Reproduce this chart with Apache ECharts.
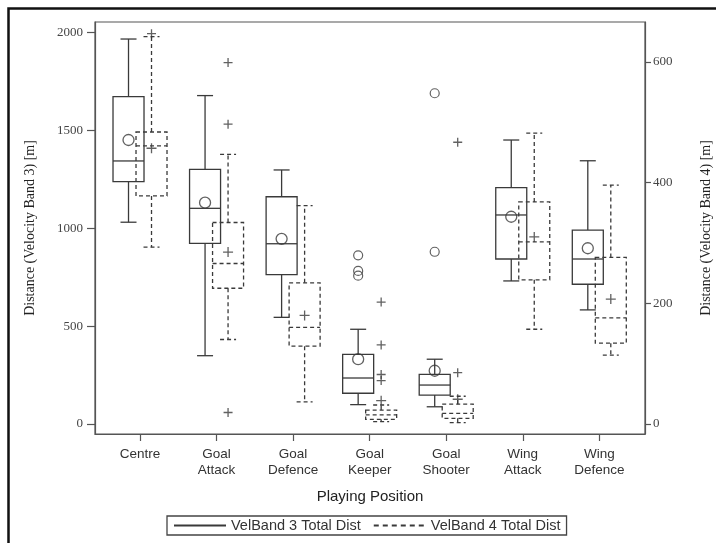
<!DOCTYPE html>
<html>
<head>
<meta charset="utf-8">
<script src="https://cdn.jsdelivr.net/npm/echarts@6/dist/echarts.min.js"></script>
<style>
    html,body{margin:0;padding:0;background:#fff;}
    #main{width:716px;height:543px;}
</style>
</head>
<body>
<div id="main"></div>
<script>
    // positions on the x axis
    var categories = ['Centre', 'Goal\nAttack', 'Goal\nDefence', 'Goal\nKeeper', 'Goal\nShooter', 'Wing\nAttack', 'Wing\nDefence'];

    // VelBand 3 (left axis)
    var band3Low  = [1031, 349, 545, 99, 88, 731, 583];
    var band3Q1   = [1238, 923, 763, 157, 148, 843, 714];
    var band3Med  = [1344, 1102, 921, 235, 199, 1068, 843];
    var band3Q3   = [1673, 1301, 1161, 356, 254, 1208, 991];
    var band3High = [1967, 1678, 1298, 484, 331, 1451, 1345];
    var band3Mean = [1451, 1131, 946, 331, 272, 1059, 898];
    var band3Outliers = [[3, 862], [3, 782], [3, 758], [4, 880], [4, 1690]];

    // VelBand 4 (right axis)
    var band4Low  = [293, 140, 36.5, 3.9, 2.2, 157, 114];
    var band4Q1   = [378, 225, 129, 7.8, 9.4, 239, 134];
    var band4Med  = [461, 266, 160, 15, 17.7, 302, 176];
    var band4Q3   = [484, 334, 234, 23, 33, 368, 276];
    var band4High = [642, 447, 362, 31.5, 46, 482, 396];
    var band4Mean = [457, 285, 180, 38.6, 41, 310, 207];
    var band4Outliers = [[0, 647], [1, 599], [1, 497], [1, 19], [3, 202], [3, 131], [3, 82], [3, 72], [4, 467], [4, 85]];

    var leftTicks = [0, 500, 1000, 1500, 2000];
    var rightTicks = [0, 200, 400, 600];

    var ink = '#3a3a3a';
    var sans = 'Liberation Sans, Arial, sans-serif';
    var serif = 'Liberation Serif, Times New Roman, serif';
    var plus = 'path://M0,5L10,5M5,0L5,10';

    function boxData(lo, q1, md, q3, hi) {
        return lo.map(function (v, i) { return [i, lo[i], q1[i], md[i], q3[i], hi[i]]; });
    }
    function meanData(arr) {
        return arr.map(function (v, i) { return [i, v]; });
    }
    function plain(v) { return String(v); }

    //画箱线
    function boxRenderer(offset, dash) {
        return function (params, api) {
            var i = api.value(0);
            var lo = api.coord([i, api.value(1)]);
            var q1 = api.coord([i, api.value(2)]);
            var md = api.coord([i, api.value(3)]);
            var q3 = api.coord([i, api.value(4)]);
            var hi = api.coord([i, api.value(5)]);
            var cx = lo[0] + offset;
            var hw = 15.5, cw = 8;
            var style = {stroke: ink, lineWidth: 1.3, fill: null, lineDash: dash};
            var line = function (x1, y1, x2, y2) {
                return {type: 'line', shape: {x1: x1, y1: y1, x2: x2, y2: y2}, style: style};
            };
            return {
                type: 'group',
                children: [
                    {type: 'rect', shape: {x: cx - hw, y: q3[1], width: hw * 2, height: q1[1] - q3[1]}, style: style},
                    line(cx - hw, md[1], cx + hw, md[1]),
                    line(cx, q3[1], cx, hi[1]),
                    line(cx, q1[1], cx, lo[1]),
                    line(cx - cw, hi[1], cx + cw, hi[1]),
                    line(cx - cw, lo[1], cx + cw, lo[1])
                ]
            };
        };
    }

    var myChart = echarts.init(document.getElementById('main'));
    var option = {
        animation: false,
        backgroundColor: '#fff',
        graphic: [{
            type: 'rect', shape: {x: 8.5, y: 8.5, width: 760, height: 600},
            style: {fill: null, stroke: '#111', lineWidth: 2.5}, silent: true
        }],
        grid: {left: 95, right: 71, top: 22, bottom: 109, show: true, borderColor: '#555', borderWidth: 1.2, outerBoundsMode: 'none', containLabel: false},
        legend: {
            data: ['VelBand 3 Total Dist', 'VelBand 4 Total Dist'],
            left: 167, top: 516,
            itemWidth: 52, itemHeight: 10, itemGap: 12,
            padding: [2, 6, 2, 6],
            borderColor: '#444', borderWidth: 1.3,
            itemStyle: {color: 'transparent', borderColor: 'transparent', borderWidth: 0},
            textStyle: {fontFamily: sans, fontSize: 14.5, color: '#333'}
        },
        xAxis: {
            type: 'value', min: -0.588, max: 6.597,
            axisLine: {show: true, onZero: false, lineStyle: {color: '#555', width: 1.2}},
            axisTick: {show: true, length: 7, customValues: categories.map(function (c, i) { return i; }), lineStyle: {color: '#555', width: 1.2}},
            axisLabel: {
                customValues: categories.map(function (c, i) { return i; }),
                formatter: function (v) { return categories[v]; },
                margin: 12, lineHeight: 16, fontFamily: sans, fontSize: 13.5, color: '#333'
            },
            splitLine: {show: false},
            name: 'Playing Position', nameLocation: 'middle', nameGap: 55,
            nameTextStyle: {fontFamily: sans, fontSize: 15, color: '#222'}
        },
        yAxis: [{
            type: 'value', min: -51.1, max: 2054, position: 'left',
            axisLine: {show: true, onZero: false, lineStyle: {color: '#555', width: 1.2}},
            axisTick: {show: true, length: 8, customValues: leftTicks, lineStyle: {color: '#555', width: 1.2}},
            axisLabel: {customValues: leftTicks, formatter: plain, margin: 12, fontFamily: serif, fontSize: 13, color: '#444'},
            splitLine: {show: false},
            name: 'Distance (Velocity Band 3) [m]', nameLocation: 'middle', nameGap: 58, nameRotate: 90,
            nameTextStyle: {fontFamily: serif, fontSize: 14, color: '#222'}
        }, {
            type: 'value', min: -16.6, max: 666.3, position: 'right',
            axisLine: {show: true, onZero: false, lineStyle: {color: '#555', width: 1.2}},
            axisTick: {show: true, length: 6, customValues: rightTicks, lineStyle: {color: '#555', width: 1.2}},
            axisLabel: {customValues: rightTicks, formatter: plain, margin: 8, fontFamily: serif, fontSize: 13, color: '#444'},
            splitLine: {show: false},
            name: 'Distance (Velocity Band 4) [m]', nameLocation: 'middle', nameGap: 54, nameRotate: 90,
            nameTextStyle: {fontFamily: serif, fontSize: 14, color: '#222'}
        }],
        series: [
            {
                type: 'custom', name: 'box3', yAxisIndex: 0,
                renderItem: boxRenderer(-11.5, null),
                encode: {x: 0, y: [1, 2, 3, 4, 5]},
                data: boxData(band3Low, band3Q1, band3Med, band3Q3, band3High)
            },
            {
                type: 'custom', name: 'box4', yAxisIndex: 1,
                renderItem: boxRenderer(11.5, [4, 3]),
                encode: {x: 0, y: [1, 2, 3, 4, 5]},
                data: boxData(band4Low, band4Q1, band4Med, band4Q3, band4High)
            },
            {
                type: 'scatter', name: 'mean3', yAxisIndex: 0,
                symbol: 'circle', symbolSize: 11, symbolOffset: [-11.5, 0],
                itemStyle: {color: 'transparent', borderColor: ink, borderWidth: 1.3},
                data: meanData(band3Mean)
            },
            {
                type: 'scatter', name: 'out3', yAxisIndex: 0,
                symbol: 'circle', symbolSize: 9, symbolOffset: [-11.5, 0],
                itemStyle: {color: 'transparent', borderColor: ink, borderWidth: 1.2},
                data: band3Outliers
            },
            {
                type: 'scatter', name: 'mean4', yAxisIndex: 1,
                symbol: plus, symbolSize: 10, symbolOffset: [11.5, 0],
                itemStyle: {color: 'transparent', borderColor: ink, borderWidth: 1.3},
                data: meanData(band4Mean)
            },
            {
                type: 'scatter', name: 'out4', yAxisIndex: 1,
                symbol: plus, symbolSize: 9, symbolOffset: [11.5, 0],
                itemStyle: {color: 'transparent', borderColor: ink, borderWidth: 1.3},
                data: band4Outliers
            },
            {
                type: 'line', name: 'VelBand 3 Total Dist', data: [], symbol: 'none',
                lineStyle: {color: ink, width: 1.3, type: 'solid'}, itemStyle: {color: 'transparent', borderWidth: 0}
            },
            {
                type: 'line', name: 'VelBand 4 Total Dist', data: [], symbol: 'none',
                lineStyle: {color: ink, width: 1.3, type: [5, 4]}, itemStyle: {color: 'transparent', borderWidth: 0}
            }
        ]
    };
    myChart.setOption(option);
</script>
</body>
</html>
